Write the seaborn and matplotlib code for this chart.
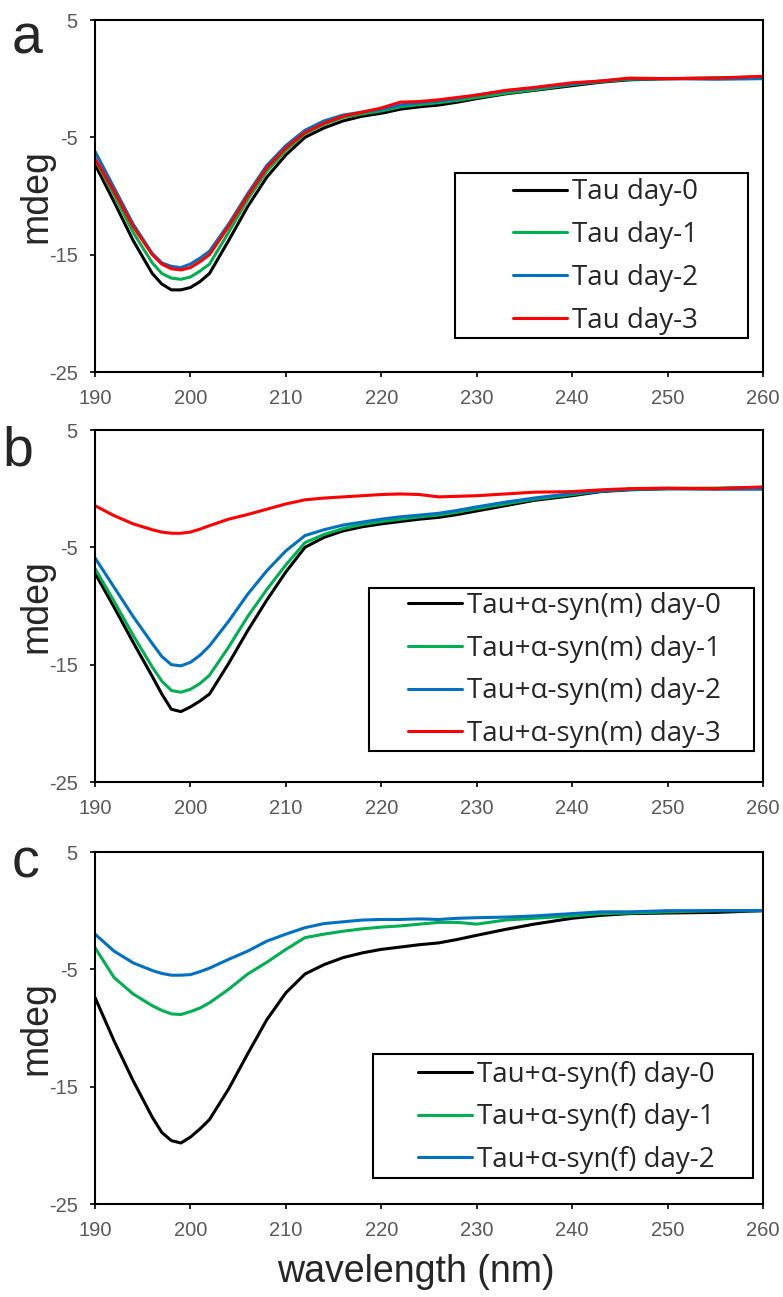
import matplotlib
matplotlib.use("Agg")
import matplotlib.pyplot as plt
from matplotlib.patches import Rectangle
import pandas as pd
import seaborn as sns

# wavelength grid (nm)
wavelength = [190, 192, 194, 196, 197, 198, 199, 200, 201, 202, 204, 206, 208, 210, 212, 214,
              216, 218, 220, 222, 224, 226, 228, 230, 233, 236, 240, 243, 246, 250, 255, 260]

# panel a: Tau alone
tau_d0 = [-7.3, -10.5, -13.8, -16.6, -17.5, -18.0, -18.0, -17.8, -17.3, -16.6, -13.8, -10.9, -8.4, -6.5, -5.0, -4.2,
          -3.6, -3.2, -2.95, -2.6, -2.4, -2.25, -2.0, -1.7, -1.3, -1.0, -0.6, -0.3, -0.1, 0.0, 0.05, 0.15]
tau_d1 = [-6.9, -9.9, -13.1, -15.7, -16.6, -17.0, -17.1, -16.9, -16.4, -15.8, -13.1, -10.3, -7.9, -6.1, -4.7, -3.9,
          -3.3, -3.0, -2.75, -2.4, -2.2, -2.05, -1.85, -1.6, -1.25, -0.95, -0.5, -0.25, -0.05, 0.0, 0.05, 0.1]
tau_d2 = [-6.2, -9.3, -12.4, -14.9, -15.7, -16.0, -16.1, -15.8, -15.3, -14.7, -12.4, -9.8, -7.4, -5.7, -4.4, -3.6,
          -3.1, -2.85, -2.6, -2.25, -2.05, -1.9, -1.7, -1.4, -1.05, -0.8, -0.45, -0.2, 0.0, 0.0, -0.05, 0.0]
tau_d3 = [-6.8, -9.6, -12.6, -15.0, -15.8, -16.2, -16.3, -16.1, -15.6, -15.0, -12.6, -10.0, -7.6, -5.9, -4.6, -3.8,
          -3.2, -2.85, -2.5, -2.0, -1.95, -1.8, -1.6, -1.4, -1.0, -0.75, -0.35, -0.2, 0.05, 0.0, 0.05, 0.2]

# panel b: Tau + a-syn monomer
m_d0 = [-7.2, -10.1, -13.1, -16.0, -17.5, -18.8, -19.0, -18.6, -18.1, -17.5, -14.9, -12.1, -9.5, -7.1, -5.0, -4.15,
        -3.6, -3.25, -3.0, -2.8, -2.6, -2.45, -2.2, -1.9, -1.45, -1.0, -0.6, -0.25, -0.1, 0.0, 0.0, 0.1]
m_d1 = [-6.8, -9.6, -12.5, -15.2, -16.4, -17.2, -17.35, -17.1, -16.6, -15.9, -13.5, -10.9, -8.6, -6.5, -4.6, -3.9,
        -3.4, -3.05, -2.8, -2.6, -2.4, -2.25, -2.0, -1.7, -1.3, -0.9, -0.5, -0.2, -0.05, 0.0, 0.05, 0.1]
m_d2 = [-5.9, -8.4, -10.9, -13.2, -14.3, -15.0, -15.1, -14.8, -14.2, -13.4, -11.3, -9.0, -7.0, -5.3, -4.0, -3.5,
        -3.1, -2.85, -2.6, -2.4, -2.25, -2.1, -1.85, -1.55, -1.15, -0.8, -0.4, -0.2, -0.05, 0.0, -0.05, -0.05]
m_d3 = [-1.45, -2.3, -3.0, -3.5, -3.7, -3.8, -3.8, -3.7, -3.45, -3.15, -2.6, -2.2, -1.75, -1.3, -0.95, -0.8,
        -0.7, -0.6, -0.5, -0.45, -0.5, -0.7, -0.65, -0.6, -0.45, -0.3, -0.25, -0.1, 0.0, 0.05, 0.0, 0.15]

# panel c: Tau + a-syn fibril
f_d0 = [-7.4, -11.1, -14.5, -17.6, -18.9, -19.6, -19.8, -19.3, -18.6, -17.8, -15.2, -12.2, -9.3, -7.0, -5.4, -4.6,
        -4.0, -3.6, -3.3, -3.1, -2.9, -2.75, -2.45, -2.1, -1.6, -1.15, -0.65, -0.4, -0.25, -0.2, -0.15, 0.0]
f_d1 = [-3.15, -5.7, -7.1, -8.1, -8.5, -8.8, -8.85, -8.6, -8.3, -7.85, -6.7, -5.4, -4.4, -3.3, -2.3, -2.0,
        -1.75, -1.55, -1.4, -1.3, -1.15, -1.0, -1.0, -1.15, -0.8, -0.65, -0.45, -0.25, -0.2, -0.1, 0.0, 0.0]
f_d2 = [-2.0, -3.45, -4.45, -5.1, -5.35, -5.5, -5.5, -5.45, -5.2, -4.9, -4.15, -3.45, -2.6, -2.0, -1.45, -1.1,
        -0.95, -0.8, -0.75, -0.75, -0.7, -0.75, -0.65, -0.6, -0.55, -0.45, -0.25, -0.1, -0.1, 0.0, 0.0, 0.0]

labels_a = ["Tau day-0", "Tau day-1", "Tau day-2", "Tau day-3"]
labels_b = ["Tau+\u03b1-syn(m) day-0", "Tau+\u03b1-syn(m) day-1", "Tau+\u03b1-syn(m) day-2", "Tau+\u03b1-syn(m) day-3"]
labels_c = ["Tau+\u03b1-syn(f) day-0", "Tau+\u03b1-syn(f) day-1", "Tau+\u03b1-syn(f) day-2"]

colors = ["#000000", "#00B050", "#0070C0", "#FF0000"]

sns.set_style("white")
plt.rcParams['font.family'] = ['Liberation Sans', 'DejaVu Sans']
plt.rcParams['axes.unicode_minus'] = False

fig = plt.figure(figsize=(7.83, 12.97), dpi=100)

panels = [
    ("a", [tau_d0, tau_d1, tau_d2, tau_d3], labels_a, 372,
     (0.539, 0.0966, 0.9775, 0.5653), (0.6257, 0.328), (12, 53)),
    ("b", [m_d0, m_d1, m_d2, m_d3], labels_b, 782,
     (0.410, 0.088, 0.9865, 0.551), (0.4686, 0.318), (2, 465)),
    ("c", [f_d0, f_d1, f_d2], labels_c, 1204,
     (0.416, 0.0737, 0.985, 0.425), (0.4835, 0.2465), (12, 878)),
]

W, H = 783, 1297
for letter, series, labels, bottom_px, box, leg_pos, let_pos in panels:
    ax = fig.add_axes([95 / W, 1 - bottom_px / H, 668 / W, 352 / H])
    rows = []
    for lab, vals in zip(labels, series):
        for x, y in zip(wavelength, vals):
            rows.append((x, y, lab))
    df = pd.DataFrame(rows, columns=["wavelength", "mdeg", "sample"])
    sns.lineplot(data=df, x="wavelength", y="mdeg", hue="sample", hue_order=labels,
                 palette=colors[:len(labels)], linewidth=2.2, legend=False, ax=ax)

    ax.set_xlim(190, 260)
    ax.set_ylim(-25, 5)
    ax.set_xticks(range(190, 261, 10))
    ax.set_yticks([-25, -15, -5, 5])
    ax.set_xlabel("")
    ax.set_ylabel("")
    for s in ax.spines.values():
        s.set_color("black")
        s.set_linewidth(1.5)
        s.set_visible(True)
    ax.tick_params(axis="both", direction="out", length=3.6, width=1.2, color="black",
                   labelsize=14.5, labelcolor="#595959")
    ax.tick_params(axis="x", pad=8.5, bottom=True)
    ax.tick_params(axis="y", pad=9, left=True)

    # legend box and entries
    x0, y0, x1, y1 = box
    ax.add_patch(Rectangle((x0, y0), x1 - x0, y1 - y0, transform=ax.transAxes,
                           fill=True, facecolor="white", edgecolor="black", lw=1.5, zorder=5))
    handles = ax.get_lines()[:len(labels)]
    leg = ax.legend(handles, labels, loc="center left", bbox_to_anchor=leg_pos,
                    frameon=False, borderpad=0, borderaxespad=0, handlelength=1.94,
                    handletextpad=0.18, labelspacing=0.53,
                    prop={"family": ["Open Sans", "DejaVu Sans"], "size": 20})
    leg.set_zorder(6)

    fig.text(36 / W, 1 - ((bottom_px - 176) / H), "mdeg", rotation=90, ha="center", va="center",
             fontsize=27)
    fig.text(let_pos[0] / W, 1 - let_pos[1] / H, letter, fontsize=40, va="baseline", ha="left")

fig.text(416 / W, 1 - 1272 / H, "wavelength (nm)", ha="center", va="center", fontsize=27)

fig.savefig("out.png", dpi=100)
